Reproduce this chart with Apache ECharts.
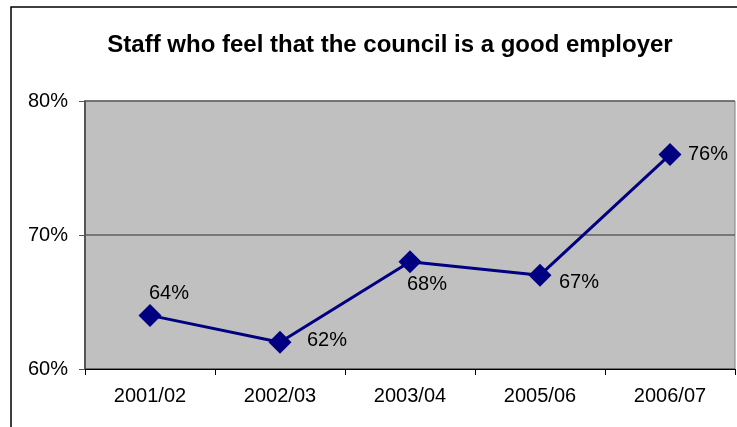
<!DOCTYPE html>
<html>
<head>
<meta charset="utf-8">
<script src="https://cdn.jsdelivr.net/npm/echarts@6/dist/echarts.min.js"></script>
<style>
html,body{margin:0;padding:0;background:#fff;}
#c{width:737px;height:427px;}
</style>
</head>
<body>
<div id="c"></div>
<script>
var titleText = 'Staff who feel that the council is a good employer';
var categories = ['2001/02', '2002/03', '2003/04', '2005/06', '2006/07'];
var values = [64, 62, 68, 67, 76];
var yTicks = { min: 60, max: 80, interval: 10 };

// label placement (style, not data)
var labelOffsets = [[-1, -22], [27, -2], [-3, 23], [19, 7], [18, 0]];

var FONT = '"Liberation Sans", Arial, sans-serif';
var chart = echarts.init(document.getElementById('c'));

var seriesData = values.map(function (v, i) {
  return {
    value: v,
    label: { offset: labelOffsets[i] }
  };
});

chart.setOption({
  animation: false,
  backgroundColor: '#ffffff',
  graphic: [
    {
      type: 'rect',
      shape: { x: 11, y: 7, width: 800, height: 500 },
      style: { fill: 'none', stroke: '#000', lineWidth: 1.5 },
      z: -10
    },
    {
      type: 'text',
      x: 390, y: 45,
      style: {
        text: titleText,
        font: 'bold 24px ' + FONT,
        fill: '#000',
        textAlign: 'center',
        textVerticalAlign: 'middle'
      }
    }
  ],
  grid: {
    left: 85, top: 101, width: 650, height: 268,
    show: true,
    backgroundColor: '#c0c0c0',
    borderColor: '#808080',
    borderWidth: 1
  },
  xAxis: {
    type: 'category',
    data: categories,
    boundaryGap: true,
    axisLine: { show: true, lineStyle: { color: '#000', width: 1 } },
    axisTick: { show: true, length: 6, lineStyle: { color: '#000' } },
    axisLabel: { color: '#000', fontSize: 20, fontFamily: FONT, margin: 17 },
    splitLine: { show: false }
  },
  yAxis: {
    type: 'value',
    min: yTicks.min, max: yTicks.max, interval: yTicks.interval,
    axisLine: { show: true, lineStyle: { color: '#555', width: 2 } },
    axisTick: { show: true, length: 6, lineStyle: { color: '#555' } },
    axisLabel: { color: '#000', fontSize: 20, fontFamily: FONT, margin: 17, formatter: '{value}%' },
    splitLine: { show: true, lineStyle: { color: '#606060', width: 1.5 } }
  },
  series: [{
    type: 'line',
    data: seriesData,
    symbol: 'diamond',
    symbolSize: 23,
    lineStyle: { color: '#000080', width: 3 },
    itemStyle: { color: '#000080' },
    label: {
      show: true,
      position: 'inside',
      align: 'left',
      verticalAlign: 'middle',
      color: '#000',
      fontSize: 20,
      fontFamily: FONT,
      formatter: '{c}%'
    }
  }]
});
</script>
</body>
</html>
